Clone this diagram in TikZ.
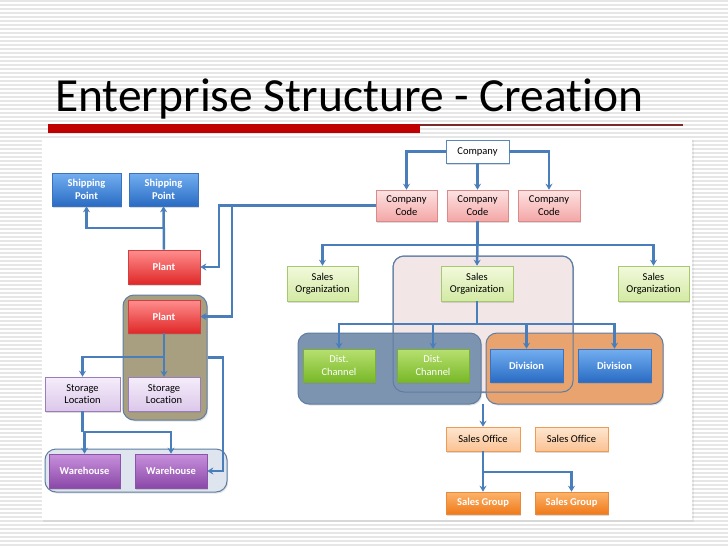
\documentclass[tikz,border=0pt]{standalone}
\usepackage{fontspec}
\setmainfont{Carlito}[Ligatures=NoCommon]
\usetikzlibrary{arrows.meta,shadows}
\definecolor{stripeC}{HTML}{E6E6E6}
\definecolor{redbar}{HTML}{C00000}
\definecolor{thinline}{HTML}{7F2A2A}
\definecolor{lineC}{HTML}{4A7EBB}
\definecolor{grpB}{HTML}{5E7DA3}
\definecolor{pinkG}{HTML}{F3E6E6}
\definecolor{blueG}{HTML}{7D94B0}
\definecolor{orangeG}{HTML}{E8A36F}
\definecolor{brownG}{HTML}{A79F80}
\definecolor{whG}{HTML}{DEE5EE}
\definecolor{blueT}{HTML}{72AEF0}
\definecolor{blueBot}{HTML}{2A6CC4}
\definecolor{blueBd}{HTML}{3A72BD}
\definecolor{redT}{HTML}{FF8E8E}
\definecolor{redBot}{HTML}{E02828}
\definecolor{redBd}{HTML}{D04040}
\definecolor{pinkT}{HTML}{FDE3E3}
\definecolor{pinkBot}{HTML}{F4A6A6}
\definecolor{pinkBd}{HTML}{D98A8A}
\definecolor{greenT}{HTML}{F2F9DC}
\definecolor{greenBot}{HTML}{D3EAA4}
\definecolor{greenBd}{HTML}{A8C870}
\definecolor{dgreenT}{HTML}{B8E070}
\definecolor{dgreenBot}{HTML}{78B828}
\definecolor{dgreenBd}{HTML}{7AAE3A}
\definecolor{lavT}{HTML}{F5EDFB}
\definecolor{lavBot}{HTML}{DCC8EA}
\definecolor{lavBd}{HTML}{9C7CB8}
\definecolor{purT}{HTML}{C890DC}
\definecolor{purBot}{HTML}{8A48A8}
\definecolor{purBd}{HTML}{8A55A8}
\definecolor{lorT}{HTML}{FDE6CF}
\definecolor{lorBot}{HTML}{FBC294}
\definecolor{lorBd}{HTML}{EE9C55}
\definecolor{orT}{HTML}{FBB46C}
\definecolor{orBot}{HTML}{F07A1A}
\definecolor{orBd}{HTML}{E88A3A}
\definecolor{compBd}{HTML}{5B86BA}
\begin{document}
\begin{tikzpicture}[x=1pt,y=-1pt,
  base/.style={rectangle, inner sep=1pt, align=center, line width=0.6pt,
    font=\fontsize{10.5}{12.3}\selectfont,
    drop shadow={shadow xshift=1.2pt, shadow yshift=-1.5pt, opacity=0.28}},
  boldw/.style={text=white, font=\fontsize{10.5}{12.3}\selectfont\bfseries},
  bluebox/.style={base, draw=blueBd, top color=blueT, bottom color=blueBot, boldw},
  redbox/.style={base, draw=redBd, top color=redT, bottom color=redBot, boldw},
  pinkbox/.style={base, draw=pinkBd, top color=pinkT, bottom color=pinkBot},
  greenbox/.style={base, draw=greenBd, top color=greenT, bottom color=greenBot},
  dgreenbox/.style={base, draw=dgreenBd, top color=dgreenT, bottom color=dgreenBot, text=white},
  lavbox/.style={base, draw=lavBd, top color=lavT, bottom color=lavBot},
  purbox/.style={base, draw=purBd, top color=purT, bottom color=purBot, boldw},
  lorbox/.style={base, draw=lorBd, top color=lorT, bottom color=lorBot},
  orbox/.style={base, draw=orBd, top color=orT, bottom color=orBot, boldw},
  compbox/.style={base, draw=compBd, fill=white},
  grp/.style={rectangle, rounded corners=11pt, draw=grpB, line width=1pt,
    drop shadow={shadow xshift=1.2pt, shadow yshift=-1.5pt, opacity=0.2}},
  grpframe/.style={rectangle, rounded corners=11pt, draw=grpB, line width=1pt},
  lin/.style={draw=lineC, line width=2.5pt},
  conn/.style={lin, -{Stealth[length=6pt,width=7pt,inset=2pt]}}
]
\useasboundingbox (0,0) rectangle (728,546);
% background stripes
\fill[white] (0,0) rectangle (728,546);
\foreach \yy in {1,5,...,545} \draw[stripeC, line width=1.6pt] (0,\yy) -- (728,\yy);
% title
\node[anchor=base west, inner sep=0, font=\fontsize{47.5}{50}\selectfont] (title) at (55,111) {Enterprise Structure - Creation};
\fill[redbar] (48,124) rectangle (420,133);
\draw[thinline, line width=1.1pt] (420,125) -- (683,125);
% panel
\fill[black, opacity=0.06] (43,140) rectangle (694,522);
\fill[white] (42,138) rectangle (692,520);

% groups
\node[grp, fill=pinkG, minimum width=180, minimum height=136] (pgrp) at (483,324) {};
\node[grp, fill=blueG, minimum width=183, minimum height=71] (bgrp) at (389.5,368.5) {};
\node[grp, fill=orangeG, minimum width=177, minimum height=71] (ogrp) at (574.5,368.5) {};
\node[grpframe, minimum width=180, minimum height=136] (pgrpb) at (pgrp.center) {};
\node[grp, fill=brownG, minimum width=84, minimum height=125] (brg) at (165,357.5) {};
\node[grp, fill=whG, minimum width=182, minimum height=43] (whg) at (136,470.5) {};

% boxes
\node[compbox, minimum width=63, minimum height=23] (company) at (477.5,151.5) {Company};
\node[pinkbox, minimum width=61, minimum height=31] (cc1) at (406.5,205.5) {Company\\Code};
\node[pinkbox, minimum width=61, minimum height=31] (cc2) at (477.5,205.5) {Company\\Code};
\node[pinkbox, minimum width=62, minimum height=31] (cc3) at (549,205.5) {Company\\Code};

\node[bluebox, minimum width=69, minimum height=33] (sp1) at (86.5,189.5) {Shipping\\Point};
\node[bluebox, minimum width=69, minimum height=33] (sp2) at (163.5,189.5) {Shipping\\Point};
\node[redbox, minimum width=72, minimum height=34] (plant1) at (164,267) {Plant};
\node[redbox, minimum width=72, minimum height=33] (plant2) at (164,316.5) {Plant};
\node[lavbox, minimum width=75, minimum height=34] (sl1) at (82.5,394) {Storage\\Location};
\node[lavbox, minimum width=72, minimum height=34] (sl2) at (164,394) {Storage\\Location};
\node[purbox, minimum width=71, minimum height=34] (wh1) at (84.5,471) {Warehouse};
\node[purbox, minimum width=72, minimum height=34] (wh2) at (171,471) {Warehouse};

\node[greenbox, minimum width=71, minimum height=35] (so1) at (322.5,283.5) {Sales\\Organization};
\node[greenbox, minimum width=72, minimum height=35] (so2) at (477,283.5) {Sales\\Organization};
\node[greenbox, minimum width=71, minimum height=35] (so3) at (653.5,283.5) {Sales\\Organization};
\node[dgreenbox, minimum width=72, minimum height=33] (dc1) at (339,365.5) {Dist.\\Channel};
\node[dgreenbox, minimum width=72, minimum height=33] (dc2) at (433,365.5) {Dist.\\Channel};
\node[bluebox, minimum width=73, minimum height=33] (div1) at (526.5,365.5) {Division};
\node[bluebox, minimum width=73, minimum height=33] (div2) at (614.5,365.5) {Division};
\node[lorbox, minimum width=74, minimum height=24] (sof1) at (483,439) {Sales Office};
\node[lorbox, minimum width=73, minimum height=24] (sof2) at (571.5,439) {Sales Office};
\node[orbox, minimum width=74, minimum height=22] (sg1) at (483,503) {Sales Group};
\node[orbox, minimum width=73, minimum height=22] (sg2) at (571.5,503) {Sales Group};

% junction coordinates
\coordinate (j1) at (219,205.5);
\coordinate (j2) at (232,205.5);
\coordinate (j3) at (223,357.5);
\coordinate (k1) at (164,228);
\coordinate (k2) at (164,357);
\coordinate (k3) at (82.5,432);
\coordinate (m1) at (477.5,245);
\coordinate (m2) at (477,324);
\coordinate (m3) at (483,404);
\coordinate (m4) at (483,472);

% connectors
\draw[conn] (company.west) -| (cc1.north);
\draw[conn] (company.east) -| (cc3.north);
\draw[conn] (company.south) -- (cc2.north);

\draw[conn] (cc1.west) -- (j1) |- (plant1.east);
\draw[conn] (j2) |- (plant2.east);
\draw[conn] (plant1.north) -- (sp2.south);
\draw[conn] (k1) -| (sp1.south);
\draw[conn] (plant2.south) -- (sl2.north);
\draw[conn] (k2) -| (sl1.north);
\draw[lin] (sl1.south) -- (k3);
\draw[conn] (k3) -| (wh2.north);
\draw[conn] (k3 -| wh1.north) -- (wh1.north);
\draw[conn] (brg.east) -- (j3) |- (wh2.east);

\draw[lin] (cc2.south) -- (m1);
\draw[conn] (m1) -| (so1.north);
\draw[conn] (m1) -| (so3.north);
\draw[conn] (m1) -- (so2.north);
\draw[lin] (so2.south) -- (m2);
\draw[conn] (m2) -| (dc1.north);
\draw[conn] (m2) -| (dc2.north);
\draw[conn] (m2) -| (div1.north);
\draw[conn] (m2) -| (div2.north);
\draw[conn] (m3) -- (sof1.north);
\draw[conn] (sof1.south) -- (sg1.north);
\draw[conn] (m4) -| (sg2.north);
\end{tikzpicture}
\end{document}
